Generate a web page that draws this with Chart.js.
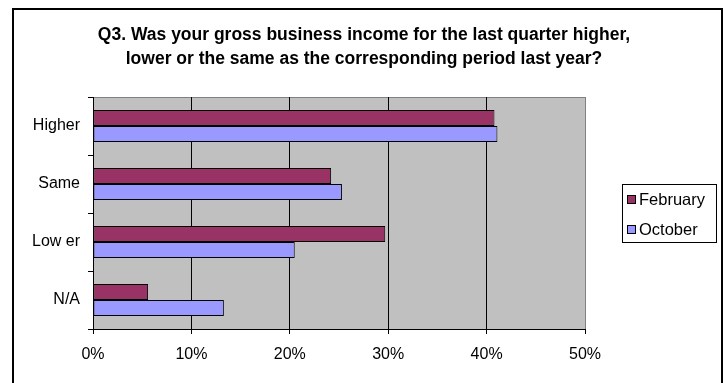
<!DOCTYPE html>
<html>
<head>
<meta charset="utf-8">
<script src="https://cdn.jsdelivr.net/npm/chart.js@4.4.1/dist/chart.umd.min.js"></script>
<style>
  html, body { margin: 0; padding: 0; background: #fff; }
  #wrap { width: 723px; height: 383px; }
</style>
</head>
<body>
<div id="wrap"><canvas id="q3Chart" width="723" height="383"></canvas></div>
<script>
/* ===============================
   DATA
================================ */
const categories = ["Higher", "Same", "Low er", "N/A"];
const february = [0.408, 0.242, 0.297, 0.056];
const october = [0.411, 0.253, 0.205, 0.133];
const seriesNames = ["February", "October"];
const tickValues = [0, 0.1, 0.2, 0.3, 0.4, 0.5];

const titleLines = [
    "Q3. Was your gross business income for the last quarter higher,",
    "lower or the same as the corresponding period last year?"
];

const FONT = "'Liberation Sans', Arial, sans-serif";
const MAROON = "#993366";
const LAVENDER = "#9999ff";

/* ===============================
   FRAME: outer border, title, plot fill, legend
================================ */
const framePlugin = {
    id: "frame",
    beforeDraw(chart) {
        const { ctx, chartArea: a } = chart;
        ctx.save();
        ctx.fillStyle = "#c0c0c0";
        ctx.fillRect(a.left, a.top, a.right - a.left, a.bottom - a.top);
        // plot edge, top and right
        ctx.strokeStyle = "#808080";
        ctx.lineWidth = 1;
        ctx.beginPath();
        ctx.moveTo(a.left, a.top + 0.5);
        ctx.lineTo(a.right + 0.5, a.top + 0.5);
        ctx.lineTo(a.right + 0.5, a.bottom);
        ctx.stroke();
        ctx.restore();
    },
    afterDraw(chart) {
        const { ctx } = chart;
        ctx.save();
        // outer border
        ctx.strokeStyle = "#000";
        ctx.lineWidth = 2;
        ctx.beginPath();
        ctx.moveTo(13, 400);
        ctx.lineTo(13, 9);
        ctx.lineTo(722, 9);
        ctx.lineTo(722, 400);
        ctx.stroke();

        // title
        ctx.fillStyle = "#000";
        ctx.font = "bold 17.5px " + FONT;
        ctx.textAlign = "center";
        ctx.textBaseline = "middle";
        titleLines.forEach((t, i) => ctx.fillText(t, 364, 35 + i * 24));

        // legend
        ctx.fillStyle = "#fff";
        ctx.fillRect(622, 184, 95, 59);
        ctx.lineWidth = 1;
        ctx.strokeRect(622.5, 184.5, 94, 58);
        ctx.font = "16.5px " + FONT;
        ctx.textAlign = "left";
        chart.data.datasets.forEach((ds, i) => {
            const y = 200 + i * 30;
            ctx.fillStyle = ds.backgroundColor;
            ctx.fillRect(628, y - 4, 7, 7);
            ctx.strokeStyle = "#000";
            ctx.strokeRect(627.5, y - 4.5, 8, 8);
            ctx.fillStyle = "#000";
            ctx.fillText(ds.label, 639, y);
        });
        ctx.restore();
    }
};

/* ===============================
   CHART
================================ */
new Chart(document.getElementById("q3Chart"), {
    type: "bar",
    data: {
        labels: categories,
        datasets: [
            { label: seriesNames[0], data: february, backgroundColor: MAROON },
            { label: seriesNames[1], data: october, backgroundColor: LAVENDER }
        ]
    },
    options: {
        indexAxis: "y",
        responsive: false,
        animation: false,
        devicePixelRatio: 1,
        layout: { padding: { top: 97, right: 138, left: 0, bottom: 0 } },
        datasets: {
            bar: {
                borderColor: "#000",
                borderWidth: 1,
                borderSkipped: false,
                categoryPercentage: 0.552,
                barPercentage: 1.0
            }
        },
        plugins: {
            legend: { display: false },
            title: { display: false },
            tooltip: { enabled: false }
        },
        scales: {
            x: {
                min: 0,
                max: 0.5,
                afterBuildTicks(scale) {
                    scale.ticks = tickValues.map(v => ({ value: v }));
                },
                afterFit(scale) { scale.height = 54; },
                border: { color: "#000", width: 1 },
                grid: {
                    color: ctx => (ctx.tick && ctx.tick.value === 0.5 ? "#808080" : "#000"),
                    tickColor: "#000",
                    tickLength: 5,
                    drawOnChartArea: true
                },
                ticks: {
                    color: "#000",
                    padding: 11,
                    font: { family: FONT, size: 16 },
                    callback: v => Math.round(v * 100) + "%"
                }
            },
            y: {
                afterFit(scale) { scale.width = 93; },
                border: { color: "#000", width: 1 },
                grid: {
                    drawOnChartArea: false,
                    tickColor: "#000",
                    tickLength: 5
                },
                ticks: {
                    color: "#000",
                    padding: 8,
                    font: { family: FONT, size: 16 }
                }
            }
        }
    },
    plugins: [framePlugin]
});
</script>
</body>
</html>
